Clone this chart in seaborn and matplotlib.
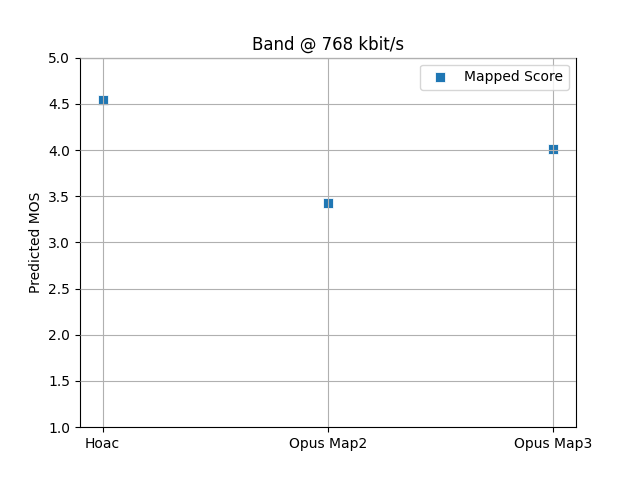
import matplotlib
matplotlib.use("Agg")
import matplotlib.pyplot as plt
import seaborn as sns
import pandas as pd

codecs = ["Hoac", "Opus Map2", "Opus Map3"]
scores = [4.545, 3.43, 4.01]

df = pd.DataFrame({"codec": codecs, "score": scores})

fig, ax = plt.subplots(figsize=(6.4, 4.8), dpi=100)
sns.scatterplot(data=df, x="codec", y="score", marker="s", s=50, ax=ax, label="Mapped Score")
ax.set_ylim(1.0, 5.0)
ax.set_xlim(-0.1, 2.1)
ax.set_axisbelow(False)
ax.grid(True)
ax.set_xlabel("")
ax.set_ylabel("Predicted MOS")
ax.set_title("Band @ 768 kbit/s")
ax.legend(loc="upper right")
fig.savefig("out.png", dpi=100)
